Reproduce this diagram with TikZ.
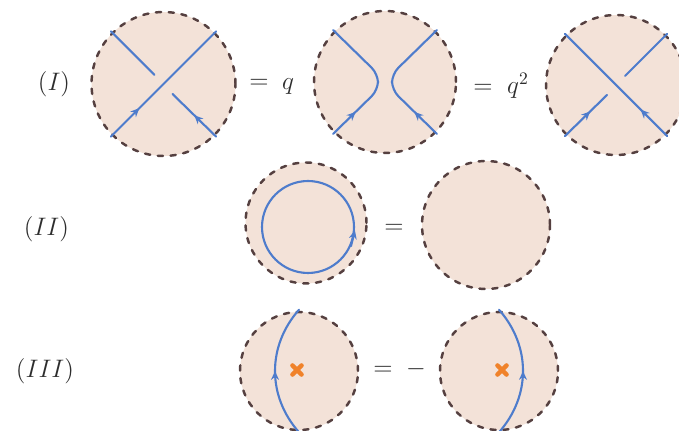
\documentclass[tikz,border=0pt]{standalone}
\usetikzlibrary{arrows.meta,decorations.markings}
\definecolor{diskfill}{RGB}{243,226,216}
\definecolor{rimbrown}{RGB}{85,64,64}
\definecolor{strandblue}{RGB}{78,124,204}
\definecolor{crossorange}{RGB}{240,130,42}
\definecolor{inkgray}{RGB}{45,45,45}
\begin{document}
\begin{tikzpicture}[x=0.02cm, y=-0.02cm, font=\Large, line join=round, line cap=round, >=stealth,
	disk/.style={circle, minimum size=#1, inner sep=0pt, outer sep=1.3pt, fill=diskfill, draw=rimbrown, line width=1.4pt, line cap=round, dash pattern=on 3pt off 4.3pt},
	strand/.style={strandblue, line width=1.2pt},
	arr/.style={postaction={decorate}, decoration={markings, mark=at position #1 with {\arrow{Stealth[length=5pt,width=4.5pt]}}}},
	lbl/.style={text=inkgray, inner sep=0pt, anchor=base},
	xmark/.style={crossorange, line width=2.6pt, line cap=round}]
	\useasboundingbox (0,0) rectangle (679,431);
	\node[lbl] (labI) at (54,91) {$(I)$};
	\node[lbl] (labII) at (46.5,236) {$(II)$};
	\node[lbl] (labIII) at (45,378) {$(III)$};
	\node[disk=2.88cm] (cI1) at (163.5,84) {};
	\node[disk=2.84cm] (cI2) at (385,82) {};
	\node[disk=2.80cm] (cI3) at (616,85) {};
	\node[lbl] (eqI1) at (259,89) {$=$};
	\node[lbl] (qI1) at (288,90) {$q$};
	\node[lbl] (eqI2) at (483,94) {$=$};
	\node[lbl] (qI2) at (518,94) {$q^2$};
	\draw[strand, arr=0.27] (cI1.225) -- (cI1.45);
	\draw[strand] (cI1.135) -- ([shift={(-9,-9)}]cI1.center);
	\draw[strand, arr=0.5] (cI1.-45) -- ([shift={(9,10)}]cI1.center);
	\draw[strand, arr=0.22, rounded corners=5pt] (cI2.225) -- ([shift={(-7,8)}]cI2.center) -- ([shift={(-7,-8)}]cI2.center) -- (cI2.135);
	\draw[strand, arr=0.22, rounded corners=5pt] (cI2.-45) -- ([shift={(7,8)}]cI2.center) -- ([shift={(7,-8)}]cI2.center) -- (cI2.45);
	\draw[strand, arr=0.26] (cI3.-45) -- (cI3.135);
	\draw[strand, arr=0.6] (cI3.225) -- ([shift={(-9,10)}]cI3.center);
	\draw[strand] ([shift={(9,-9)}]cI3.center) -- (cI3.45);
	\node[disk=2.42cm] (cII1) at (306,223) {};
	\node[circle, minimum size=1.84cm, inner sep=0pt, draw=strandblue, line width=1.2pt] (loopII) at (308,227) {};
	\draw[strand, -{Stealth[length=5pt,width=4.5pt]}] (loopII.-24) -- (loopII.-4);
	\node[lbl] (eqII) at (394,233.5) {$=$};
	\node[disk=2.56cm] (cII2) at (486,225) {};
	\node[disk=2.36cm] (cIII1) at (299,371) {};
	\node[disk=2.36cm] (cIII2) at (499,371) {};
	\draw[strand, arr=0.5] (cIII1.-90) .. controls ([shift={(-32,25)}]cIII1.center) and ([shift={(-32,-25)}]cIII1.center) .. (cIII1.90);
	\draw[strand, arr=0.5] (cIII2.-90) .. controls ([shift={(32,25)}]cIII2.center) and ([shift={(32,-25)}]cIII2.center) .. (cIII2.90);
	\coordinate (xIII1) at ([shift={(-2,-1)}]cIII1.center);
	\coordinate (xIII2) at ([shift={(3,-1)}]cIII2.center);
	\draw[xmark] ([shift={(-4.5,-4.5)}]xIII1) -- ([shift={(4.5,4.5)}]xIII1) ([shift={(-4.5,4.5)}]xIII1) -- ([shift={(4.5,-4.5)}]xIII1);
	\draw[xmark] ([shift={(-4.5,-4.5)}]xIII2) -- ([shift={(4.5,4.5)}]xIII2) ([shift={(-4.5,4.5)}]xIII2) -- ([shift={(4.5,-4.5)}]xIII2);
	\node[lbl] (eqIII) at (383,376) {$=$};
	\node[lbl] (minIII) at (416,376) {$-$};
\end{tikzpicture}
\end{document}
